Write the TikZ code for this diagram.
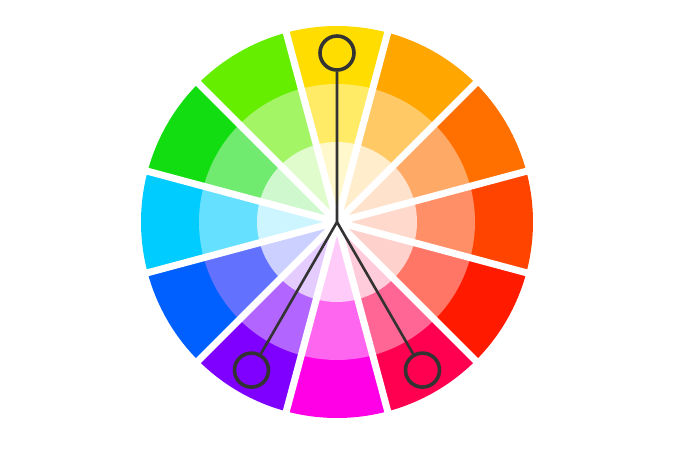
\documentclass[tikz,border=0pt]{standalone}
\usepackage{tikz}
\usetikzlibrary{positioning}

\definecolor{hYellow}{HTML}{FFDD00}
\definecolor{hOrange}{HTML}{FFA600}
\definecolor{hDarkOrange}{HTML}{FF7000}
\definecolor{hRedOrange}{HTML}{FF4400}
\definecolor{hRed}{HTML}{FF1A00}
\definecolor{hCrimson}{HTML}{FF0050}
\definecolor{hMagenta}{HTML}{FF00E6}
\definecolor{hViolet}{HTML}{8000FF}
\definecolor{hBlue}{HTML}{0060FF}
\definecolor{hBlueMid}{HTML}{6272FF}
\definecolor{hBluePale}{HTML}{CCD0FF}
\definecolor{hCyan}{HTML}{00CCFF}
\definecolor{hGreen}{HTML}{11DD11}
\definecolor{hLime}{HTML}{66EE00}
\definecolor{markgray}{HTML}{333333}

\begin{document}
\begin{tikzpicture}[x=1pt,y=1pt]
\tikzstyle{gap}=[draw=white,line width=7pt]
\tikzstyle{pick}=[circle,draw=markgray,line width=3.6pt,minimum size=34pt,inner sep=0pt]
\tikzstyle{spoke}=[draw=markgray,line width=2.6pt]
\useasboundingbox (-337,-227) rectangle (338,222);
\coordinate (C) at (0,0);
% hue wedges, three rings
\foreach \a/\hue/\mid/\pale in {
    90/hYellow/hYellow!60!white/hYellow!20!white,
    60/hOrange/hOrange!60!white/hOrange!20!white,
    30/hDarkOrange/hDarkOrange!60!white/hDarkOrange!20!white,
    0/hRedOrange/hRedOrange!60!white/hRedOrange!20!white,
    -30/hRed/hRed!60!white/hRed!20!white,
    -60/hCrimson/hCrimson!60!white/hCrimson!20!white,
    -90/hMagenta/hMagenta!60!white/hMagenta!20!white,
    -120/hViolet/hViolet!60!white/hViolet!20!white,
    -150/hBlue/hBlueMid/hBluePale,
    -180/hCyan/hCyan!60!white/hCyan!20!white,
    -210/hGreen/hGreen!60!white/hGreen!20!white,
    -240/hLime/hLime!60!white/hLime!20!white}{
  \fill[\hue] (C) -- (\a-15:196) arc (\a-15:\a+15:196) -- cycle;
  \fill[\mid] (C) -- (\a-15:138) arc (\a-15:\a+15:138) -- cycle;
  \fill[\pale] (C) -- (\a-15:80) arc (\a-15:\a+15:80) -- cycle;
}
\foreach \g in {75,45,15,-15,-45,-75,-105,-135,-165,-195,-225,-255}
  \path[gap] (C) -- (\g:200);
% marks
\node[pick] (yel) at (90:169) {};
\node[pick] (vio) at (-120:171) {};
\node[pick] (cri) at (-60:171) {};
\path[spoke] (C) -- (yel)
             (C) -- (vio)
             (C) -- (cri);
\end{tikzpicture}
\end{document}
